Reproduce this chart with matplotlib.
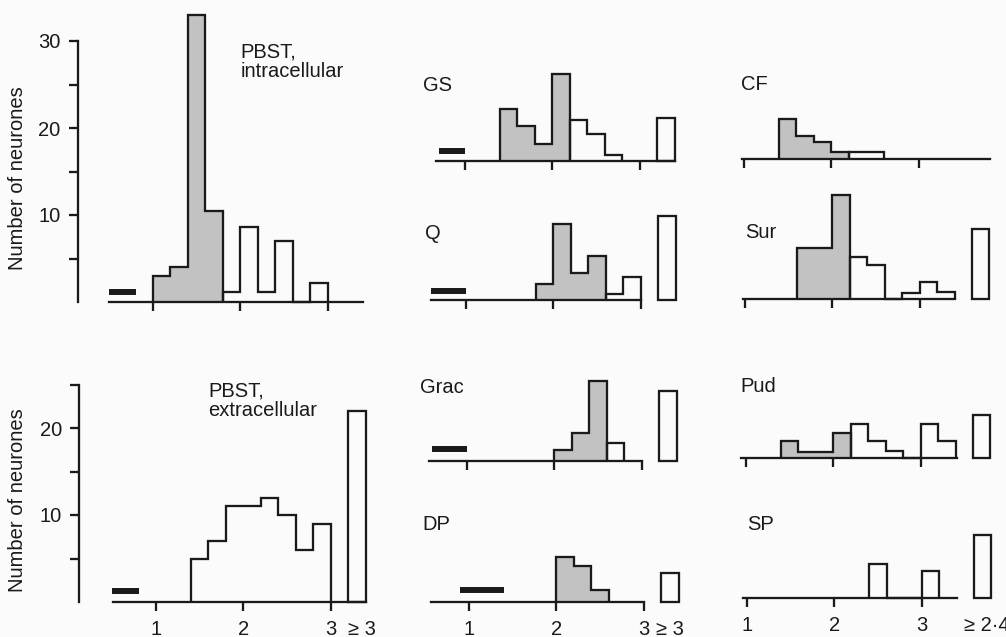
import numpy as np
import matplotlib
matplotlib.use("Agg")
import matplotlib.pyplot as plt

plt.rcParams['font.family'] = ['Liberation Sans', 'DejaVu Sans']
plt.rcParams['font.size'] = 14.5

# ---- data (counts), bins are 0.2 wide ----
intra_start = 1.0
intra_shaded = [3, 4, 33, 10.5]
intra_white = [1.15, 8.6, 1.15, 7.05, 0, 2.2]

extra_start = 1.4
extra_white = [5, 7, 11, 11, 12, 10, 6, 9]
extra_over = 22

gs_start = 1.4
gs_shaded = [6, 4, 2, 10]
gs_white = [4.7, 3.1, 0.7]
gs_over = 4.9

q_start = 1.8
q_shaded = [1.8, 8.7, 3.1, 5.1]
q_white = [0.65, 2.7]
q_over = 9.7

cf_start = 1.4
cf_shaded = [4.6, 2.7, 1.9, 0.8]
cf_white = [0.8, 0.8]

sur_start = 1.6
sur_shaded = [5.9, 5.9, 12]
sur_white = [4.8, 3.9, 0, 0.7, 2.0, 0.8]
sur_over = 8.1

grac_start = 2.0
grac_shaded = [1.3, 3.2, 9.2]
grac_white = [2.1]
grac_over = 8.0

dp_start = 2.0
dp_shaded = [5.2, 4.1, 1.4]
dp_white = []
dp_over = 3.3

pud_start = 1.4
pud_shaded = [1.9, 0.65, 0.65, 2.9]
pud_white = [3.9, 2.0, 0.8, 0, 3.9, 2.0]
pud_over = 4.9

sp_start = 2.4
sp_shaded = []
sp_white = [3.9, 0, 0, 3.1]
sp_over = 7.2

# black reference bars (x from, x to, height)
bar_intra = (0.5, 0.8, 1.15)
bar_extra = (0.5, 0.8, 1.3)
bar_gs = (0.7, 1.0, 1.15)
bar_q = (0.6, 1.0, 1.0)
bar_grac = (0.6, 1.0, 1.4)
bar_dp = (0.9, 1.4, 1.4)

BW = 0.2
W, H = 1006, 637
PX_X, PX_Y = 87.3, 8.7
INK = '#1a1a1a'
GREY = '#c2c2c2'
LW = 1.65

fig = plt.figure(figsize=(W / 100, H / 100), dpi=100, facecolor='#fbfbfb')


def make_ax(x1_px, base_px, ymax, axis_from, axis_to, labels=None):
    xlim = (0.0, 4.0)
    left = x1_px + (xlim[0] - 1) * PX_X
    ax = fig.add_axes([left / W, (H - base_px) / H,
                       (xlim[1] - xlim[0]) * PX_X / W, ymax * PX_Y / H])
    ax.set_xlim(*xlim)
    ax.set_ylim(0, ymax)
    ax.patch.set_visible(False)
    for s in ['top', 'right', 'left']:
        ax.spines[s].set_visible(False)
    ax.spines['bottom'].set_bounds(axis_from, axis_to)
    ax.spines['bottom'].set_linewidth(LW)
    ax.spines['bottom'].set_color(INK)
    ax.set_yticks([])
    if labels is None:
        ax.set_xticks([1, 2, 3])
        ax.tick_params(axis='x', labelbottom=False)
    else:
        ax.set_xticks(labels[0], labels=labels[1])
        ax.xaxis.get_major_ticks()[-1].tick1line.set_visible(False)
    ax.tick_params(axis='x', direction='out', length=6.5, width=LW,
                   color=INK, labelcolor=INK, pad=6.5, labelsize=14.5)
    return ax


def hist(ax, start, shaded, white, over=None, over_x=3.3, ref=None):
    e = start
    if len(shaded):
        edges = e + BW * np.arange(len(shaded) + 1)
        ax.stairs(shaded, edges, baseline=0, fill=True, facecolor=GREY,
                  edgecolor=INK, linewidth=LW, clip_on=False)
        e = edges[-1]
    if len(white):
        edges = e + BW * np.arange(len(white) + 1)
        ax.stairs(white, edges, baseline=0, fill=False, color=INK,
                  linewidth=LW, clip_on=False)
    if over is not None:
        ax.bar(over_x, over, width=BW, facecolor='none', edgecolor=INK,
               linewidth=LW, clip_on=False)
    if ref is not None:
        ax.plot([ref[0], ref[1]], [ref[2], ref[2]], color=INK, lw=4.3,
                solid_capstyle='butt', clip_on=False)


def name(ax, x, y, s):
    ax.text(x, y, s, ha='left', va='center', color=INK)


def left_axis(ax, top, major, minor, pos):
    ax.spines['left'].set_visible(True)
    ax.spines['left'].set_position(('data', pos))
    ax.spines['left'].set_bounds(0, top)
    ax.spines['left'].set_linewidth(LW)
    ax.spines['left'].set_color(INK)
    ax.set_yticks(major)
    ax.set_yticks(minor, minor=True)
    ax.tick_params(axis='y', which='both', direction='out', length=6.5,
                   width=LW, color=INK, labelcolor=INK, pad=6.0,
                   labelsize=14.5)


# left column
ax = make_ax(153, 302, 34, 0.5, 3.4)
hist(ax, intra_start, intra_shaded, intra_white, ref=bar_intra)
ax.text(2.0, 29.8, 'PBST,\nintracellular', ha='left', va='top', color=INK,
        linespacing=1.05)
left_axis(ax, 30, [10, 20, 30], [5, 15, 25], 0.14)

ax = make_ax(156, 602, 26, 0.51, 3.4,
             labels=([1, 2, 3, 3.36], ['1', '2', '3', '\u2265 3']))
hist(ax, extra_start, [], extra_white, over=extra_over, over_x=3.3, ref=bar_extra)
ax.text(1.6, 25.4, 'PBST,\nextracellular', ha='left', va='top', color=INK,
        linespacing=1.05)
left_axis(ax, 25, [10, 20], [5, 15, 25], 0.12)

fig.text(18 / W, 1 - 178 / H, 'Number of neurones', rotation=90,
         ha='center', va='center', color=INK)
fig.text(18 / W, 1 - 500 / H, 'Number of neurones', rotation=90,
         ha='center', va='center', color=INK)

# middle column
ax = make_ax(465, 161, 12, 0.67, 3.4)
hist(ax, gs_start, gs_shaded, gs_white, over=gs_over, ref=bar_gs)
name(ax, 0.52, 8.7, 'GS')

ax = make_ax(466, 300, 12, 0.6, 3.0)
hist(ax, q_start, q_shaded, q_white, over=q_over, ref=bar_q)
name(ax, 0.53, 7.7, 'Q')

ax = make_ax(467, 461, 12, 0.56, 3.0)
hist(ax, grac_start, grac_shaded, grac_white, over=grac_over, ref=bar_grac)
name(ax, 0.46, 8.5, 'Grac')

ax = make_ax(469, 602, 12, 0.56, 3.0,
             labels=([1, 2, 3, 3.3], ['1', '2', '3', '\u2265 3']))
hist(ax, dp_start, dp_shaded, dp_white, over=dp_over, ref=bar_dp)
name(ax, 0.47, 8.9, 'DP')

# right column
ax = make_ax(744, 159, 12, 0.98, 3.82)
hist(ax, cf_start, cf_shaded, cf_white)
name(ax, 0.97, 8.6, 'CF')

ax = make_ax(745, 299, 14, 0.98, 3.41)
hist(ax, sur_start, sur_shaded, sur_white, over=sur_over, over_x=3.7)
name(ax, 1.0, 7.6, 'Sur')

ax = make_ax(746, 458, 12, 0.94, 3.42)
hist(ax, pud_start, pud_shaded, pud_white, over=pud_over, over_x=3.7)
name(ax, 0.93, 8.2, 'Pud')

ax = make_ax(747, 598, 12, 0.95, 3.4,
             labels=([1, 2, 3, 3.75], ['1', '2', '3', '\u2265 2\u00b74']))
hist(ax, sp_start, sp_shaded, sp_white, over=sp_over, over_x=3.7)
name(ax, 1.0, 8.4, 'SP')

fig.savefig('out.png', dpi=100, facecolor=fig.get_facecolor())
